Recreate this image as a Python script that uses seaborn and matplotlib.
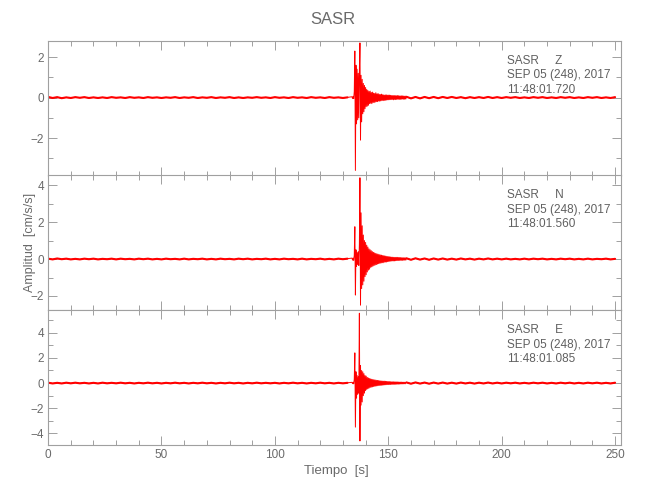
import numpy as np
import matplotlib
matplotlib.use("Agg")
import matplotlib.pyplot as plt
from matplotlib.ticker import MultipleLocator
import seaborn as sns

station = "SASR"
components = ["Z", "N", "E"]
date_label = "SEP 05 (248), 2017"
start_times = ["11:48:01.720", "11:48:01.560", "11:48:01.085"]
y_limits = [(-3.85, 2.81), (-2.76, 4.54), (-4.92, 5.79)]

# malla de muestreo (s): ruido previo, evento, coda
t_pre = np.arange(0, 134, 2.0)
t_evt = np.arange(134, 158, 0.25)
t_post = np.arange(158, 251, 2.0)

z_pre = [0.03, -0.02, 0.02, -0.03, 0.01, -0.02, 0.02, -0.01, 0.02, -0.02,
         0.01, -0.02, 0.01, -0.02, 0.02, -0.01, 0.01, -0.02, 0.02, -0.01,
         0.01, -0.02, 0.02, -0.01, 0.01, -0.02, 0.01, -0.01, 0.02, -0.02,
         0.01, -0.01, 0.02, -0.02, 0.01, -0.01, 0.02, -0.02, 0.01, -0.01,
         0.02, -0.02, 0.01, -0.02, 0.01, -0.01, 0.02, -0.01, 0.01, -0.02,
         0.02, -0.01, 0.01, -0.02, 0.02, -0.01, 0.01, -0.02, 0.02, -0.01,
         0.01, -0.02, 0.02, -0.01, 0.01, -0.02, 0.01]
z_evt = [0.04, -0.05, 0.06, -0.05, 0.3, 2.3, -3.6, 1.6,
         -1.3, 1.4, -1.1, 1.2, -1.0, 1.3, 2.7, -2.1,
         1.1, -1.2, 0.9, -0.8, 0.7, -0.7, 0.6, -0.55,
         0.5, -0.45, 0.4, -0.42, 0.35, -0.38, 0.3, -0.3,
         0.32, -0.28, 0.25, -0.3, 0.27, -0.24, 0.22, -0.25,
         0.2, -0.22, 0.24, -0.2, 0.18, -0.2, 0.2, -0.17,
         0.16, -0.18, 0.15, -0.16, 0.17, -0.14, 0.14, -0.15,
         0.13, -0.14, 0.12, -0.13, 0.14, -0.12, 0.12, -0.11,
         0.12, -0.11, 0.12, -0.1, 0.11, -0.1, 0.1, -0.09,
         0.1, -0.11, 0.1, -0.09, 0.1, -0.1, 0.09, -0.09,
         0.1, -0.08, 0.09, -0.09, 0.08, -0.09, 0.08, -0.08,
         0.09, -0.07, 0.08, -0.08, 0.07, -0.08, 0.07, -0.07]
z_post = [0.04, -0.04, 0.03, -0.04, 0.03, -0.03, 0.03, -0.03, 0.03, -0.02,
          0.03, -0.02, 0.02, -0.03, 0.02, -0.02, 0.02, -0.02, 0.03, -0.02,
          0.02, -0.02, 0.02, -0.01, 0.02, -0.02, 0.01, -0.02, 0.02, -0.01,
          0.02, -0.02, 0.01, -0.02, 0.02, -0.01, 0.02, -0.02, 0.01, -0.02,
          0.02, -0.01, 0.02, -0.02, 0.01, -0.02, 0.02]

n_pre = [0.02, -0.02, 0.03, -0.01, 0.02, -0.02, 0.01, -0.02, 0.02, -0.01,
         0.02, -0.02, 0.01, -0.01, 0.02, -0.02, 0.02, -0.01, 0.01, -0.02,
         0.02, -0.01, 0.02, -0.02, 0.01, -0.02, 0.02, -0.01, 0.01, -0.02,
         0.02, -0.02, 0.01, -0.01, 0.02, -0.02, 0.01, -0.02, 0.02, -0.01,
         0.01, -0.02, 0.02, -0.01, 0.02, -0.02, 0.01, -0.01, 0.02, -0.02,
         0.01, -0.02, 0.02, -0.01, 0.01, -0.02, 0.02, -0.02, 0.01, -0.01,
         0.02, -0.02, 0.01, -0.02, 0.02, -0.01, 0.02]
n_evt = [0.05, -0.06, 0.05, -0.07, 0.2, 1.75, -1.95, 0.5,
         -0.4, 0.35, -0.3, 0.4, -0.35, 0.8, 4.4, -2.5,
         2.5, -1.6, 1.8, -1.4, 1.3, -1.2, 1.0, -0.95,
         0.9, -0.85, 0.75, -0.7, 0.65, -0.6, 0.55, -0.55,
         0.5, -0.45, 0.45, -0.42, 0.4, -0.38, 0.36, -0.35,
         0.33, -0.32, 0.3, -0.3, 0.28, -0.27, 0.26, -0.25,
         0.24, -0.23, 0.22, -0.22, 0.21, -0.2, 0.19, -0.2,
         0.18, -0.17, 0.17, -0.16, 0.15, -0.16, 0.14, -0.14,
         0.13, -0.13, 0.12, -0.12, 0.11, -0.11, 0.1, -0.1,
         0.1, -0.1, 0.09, -0.1, 0.09, -0.09, 0.09, -0.08,
         0.09, -0.08, 0.08, -0.08, 0.08, -0.07, 0.08, -0.07,
         0.07, -0.07, 0.07, -0.06, 0.07, -0.06, 0.06, -0.06]
n_post = [0.04, -0.04, 0.04, -0.03, 0.03, -0.04, 0.03, -0.03, 0.03, -0.03,
          0.02, -0.03, 0.03, -0.02, 0.02, -0.03, 0.02, -0.02, 0.03, -0.02,
          0.02, -0.02, 0.02, -0.02, 0.01, -0.02, 0.02, -0.02, 0.02, -0.01,
          0.02, -0.02, 0.01, -0.02, 0.02, -0.01, 0.02, -0.02, 0.01, -0.02,
          0.02, -0.02, 0.01, -0.01, 0.02, -0.02, 0.01]

e_pre = [0.03, -0.03, 0.02, -0.03, 0.03, -0.02, 0.03, -0.02, 0.02, -0.03,
         0.02, -0.03, 0.03, -0.02, 0.02, -0.02, 0.03, -0.02, 0.02, -0.03,
         0.02, -0.02, 0.03, -0.02, 0.02, -0.03, 0.02, -0.02, 0.03, -0.02,
         0.02, -0.03, 0.02, -0.02, 0.03, -0.02, 0.02, -0.03, 0.02, -0.02,
         0.03, -0.02, 0.02, -0.03, 0.02, -0.02, 0.03, -0.02, 0.02, -0.02,
         0.02, -0.03, 0.02, -0.02, 0.03, -0.02, 0.02, -0.03, 0.02, -0.02,
         0.03, -0.02, 0.02, -0.03, 0.02, -0.02, 0.02]
e_evt = [0.06, -0.05, 0.07, -0.06, 0.3, 2.4, -3.5, 0.9,
         -1.2, 0.6, -0.9, 0.5, -0.8, 5.55, -4.6, 1.4,
         -1.75, 1.0, -1.5, 0.9, -1.0, 0.75, -0.8, 0.6,
         -0.6, 0.55, -0.5, 0.45, -0.45, 0.4, -0.4, 0.36,
         -0.35, 0.33, -0.32, 0.3, -0.3, 0.28, -0.27, 0.26,
         -0.25, 0.24, -0.24, 0.22, -0.22, 0.21, -0.2, 0.2,
         -0.19, 0.18, -0.18, 0.17, -0.17, 0.16, -0.16, 0.15,
         -0.15, 0.15, -0.14, 0.14, -0.13, 0.13, -0.12, 0.12,
         -0.12, 0.12, -0.11, 0.12, -0.11, 0.1, -0.1, 0.1,
         -0.1, 0.1, -0.1, 0.09, -0.1, 0.09, -0.09, 0.09,
         -0.08, 0.09, -0.08, 0.08, -0.08, 0.08, -0.07, 0.08,
         -0.07, 0.07, -0.07, 0.07, -0.06, 0.07, -0.06, 0.06]
e_post = [0.05, -0.05, 0.05, -0.04, 0.04, -0.05, 0.04, -0.04, 0.04, -0.04,
          0.03, -0.04, 0.04, -0.03, 0.03, -0.04, 0.03, -0.03, 0.04, -0.03,
          0.03, -0.03, 0.03, -0.02, 0.03, -0.03, 0.02, -0.03, 0.03, -0.02,
          0.03, -0.03, 0.02, -0.03, 0.03, -0.02, 0.03, -0.03, 0.02, -0.03,
          0.03, -0.02, 0.03, -0.03, 0.02, -0.03, 0.03]

traces = [(z_pre, z_evt, z_post), (n_pre, n_evt, n_post), (e_pre, e_evt, e_post)]

sns.set_style("ticks")
plt.rcParams["font.family"] = ["Liberation Sans Narrow", "Liberation Sans", "DejaVu Sans"]

frame_col = "#a0a0a0"
text_col = "#6a6a6a"

fig = plt.figure(figsize=(6.5, 5), dpi=100)

# paneles apilados (fracciones de figura)
left, width, height = 0.074, 0.881, 0.2696
bottoms = [0.649, 0.380, 0.110]

t_all = np.concatenate([t_pre, t_evt, t_post])
for k, (comp, start, ylim, tr) in enumerate(zip(components, start_times, y_limits, traces)):
    ax = fig.add_axes([left, bottoms[k], width, height])
    amp = np.concatenate([tr[0], tr[1], tr[2]])
    sns.lineplot(x=t_all, y=amp, ax=ax, color="red", lw=0.7,
                 estimator=None, sort=False)
    # el ruido de fondo se ve como una banda algo mas gruesa
    sns.lineplot(x=t_pre, y=tr[0], ax=ax, color="red", lw=1.5,
                 estimator=None, sort=False)
    sns.lineplot(x=t_post, y=tr[2], ax=ax, color="red", lw=1.5,
                 estimator=None, sort=False)
    ax.set_xlim(0, 252.5)
    ax.set_ylim(*ylim)
    ax.xaxis.set_major_locator(MultipleLocator(50))
    ax.xaxis.set_minor_locator(MultipleLocator(10))
    ax.yaxis.set_major_locator(MultipleLocator(2))
    ax.yaxis.set_minor_locator(MultipleLocator(1))
    ax.tick_params(which="both", direction="in", top=True, right=True,
                   color=frame_col, labelcolor=text_col, labelsize=8.5, pad=3)
    ax.tick_params(which="major", length=6.5, width=0.7)
    ax.tick_params(which="minor", length=3.6, width=0.7)
    for sp in ax.spines.values():
        sp.set_color(frame_col)
        sp.set_linewidth(0.8)
    ax.set_xlabel("")
    ax.set_ylabel("")
    if k < 2:
        ax.tick_params(labelbottom=False)

    lines = [f"{station}     {comp}", date_label, start]
    for j, txt in enumerate(lines):
        ax.text(0.801, 0.852 - 0.1076 * j, txt, transform=ax.transAxes,
                ha="left", va="center", fontsize=8.5, color="#606060")

fig.text(0.512, 0.96, station, ha="center", va="center", fontsize=12, color=text_col)
fig.text(30 / 650, 0.515, "Amplitud  [cm/s/s]", rotation=90,
         ha="center", va="center", fontsize=9, color=text_col)
fig.text(336 / 650, 0.058, "Tiempo  [s]", ha="center", va="center",
         fontsize=9.5, color=text_col)

fig.savefig("out.png", dpi=100)
